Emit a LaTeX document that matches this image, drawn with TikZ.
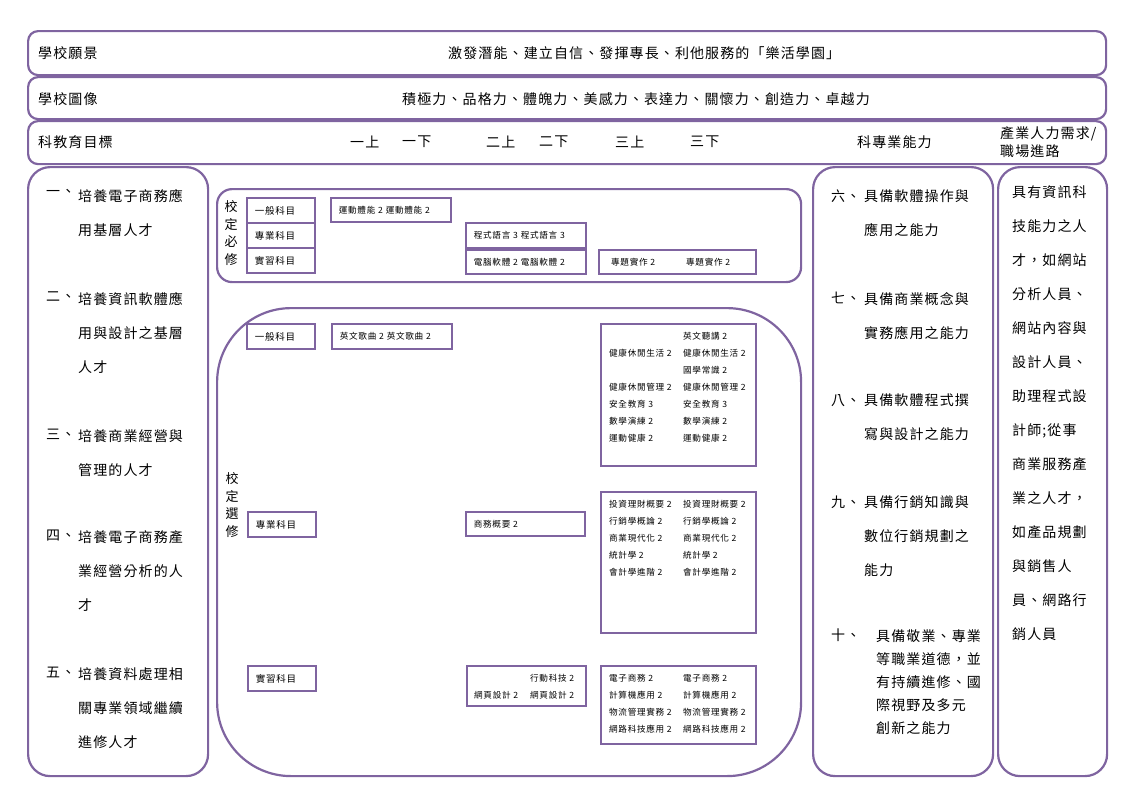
\documentclass[tikz,border=0pt]{standalone}
\usepackage{fontspec}
\setmainfont{Noto Sans CJK TC}[LetterSpace=8]
\usetikzlibrary{positioning}
\definecolor{frameviolet}{RGB}{127,100,160}

\begin{document}
\begin{tikzpicture}[
		x=1pt, y=-1pt,
		panel/.style={draw=frameviolet, line width=2.2pt, rounded corners=#1, inner sep=0pt, anchor=north west},
		panel/.default=10pt,
		hdr/.style={inner sep=0pt, anchor=west, font=\fontsize{14}{18}\selectfont},
		goaltext/.style={inner sep=0pt, anchor=north west, align=left, font=\fontsize{14}{34}\selectfont},
		subj/.style={draw=frameviolet, line width=1.8pt, anchor=north west, text width=52pt, inner xsep=8pt, inner ysep=0pt, minimum height=25pt, align=left, font=\fontsize{9.5}{11}\selectfont},
		course/.style={draw=frameviolet, line width=1.8pt, anchor=north west, inner xsep=8pt, inner ysep=0pt, minimum height=24pt, align=left, font=\fontsize{8.6}{10}\selectfont},
		listbox/.style={draw=frameviolet, line width=1.8pt, anchor=north west, inner sep=0pt},
		courselist/.style={inner sep=0pt, anchor=north west, font=\fontsize{8.6}{17}\selectfont},
		vlab/.style={inner sep=0pt, align=center, font=\fontsize{13}{17.5}\selectfont}
	]
	\useasboundingbox (0,0) rectangle (1130,798);

	\node[panel, minimum width=1078pt, minimum height=44pt] (visionrow) at (27,30) {};
	\node[panel, minimum width=1078pt, minimum height=42pt] (imagerow) at (27,76) {};
	\node[panel, minimum width=1078pt, minimum height=43pt] (goalrow) at (27,120) {};
	\node[panel=22pt, minimum width=180pt, minimum height=609pt] (goalcol) at (27,166) {};
	\node[panel=22pt, minimum width=180pt, minimum height=609pt] (abilitycol) at (812,166) {};
	\node[panel=22pt, minimum width=109pt, minimum height=609pt] (careercol) at (997,166) {};
	\node[panel=15pt, minimum width=584pt, minimum height=93pt] (required) at (216,188) {};
	\node[panel=74pt, minimum width=584pt, minimum height=468pt] (elective) at (216,307) {};

	\node[hdr] (visionlbl) at (38,53) {學校願景};
	\node[hdr] (vision) at (448,53) {激發潛能、建立自信、發揮專長、利他服務的「樂活學園」};
	\node[hdr] (imagelbl) at (38,99) {學校圖像};
	\node[hdr] (image) at (402,99) {積極力、品格力、體魄力、美感力、表達力、關懷力、創造力、卓越力};
	\node[hdr] (goallbl) at (38,142) {科教育目標};
	\node[hdr] (t1a) at (350,142) {一上};
	\node[hdr] (t1b) at (402,142) {一下};
	\node[hdr] (t2a) at (486,142) {二上};
	\node[hdr] (t2b) at (539,142) {二下};
	\node[hdr] (t3a) at (615,142) {三上};
	\node[hdr] (t3b) at (690,142) {三下};
	\node[hdr] (abilitylbl) at (857,142) {科專業能力};
	\node[hdr, align=left] (careerlbl) at (1000,142) {產業人力需求/\\職場進路};

	\node[goaltext] (g1n) at (46,189) {一、};
	\node[goaltext] (g1) at (78,189) {培養電子商務應\\用基層人才};
	\node[goaltext] (g2n) at (46,292) {二、};
	\node[goaltext] (g2) at (78,292) {培養資訊軟體應\\用與設計之基層\\人才};
	\node[goaltext] (g3n) at (46,429) {三、};
	\node[goaltext] (g3) at (78,429) {培養商業經營與\\管理的人才};
	\node[goaltext] (g4n) at (46,530) {四、};
	\node[goaltext] (g4) at (78,530) {培養電子商務產\\業經營分析的人\\才};
	\node[goaltext] (g5n) at (46,667) {五、};
	\node[goaltext] (g5) at (78,667) {培養資料處理相\\關專業領域繼續\\進修人才};

	\node[goaltext] (a6n) at (831,190) {六、};
	\node[goaltext] (a6) at (864,190) {具備軟體操作與\\應用之能力};
	\node[goaltext] (a7n) at (831,292) {七、};
	\node[goaltext] (a7) at (864,292) {具備商業概念與\\實務應用之能力};
	\node[goaltext] (a8n) at (831,394) {八、};
	\node[goaltext] (a8) at (864,394) {具備軟體程式撰\\寫與設計之能力};
	\node[goaltext] (a9n) at (831,496) {九、};
	\node[goaltext] (a9) at (864,496) {具備行銷知識與\\數位行銷規劃之\\能力};
	\node[goaltext] (a10n) at (831,629) {十、};
	\node[goaltext, font=\fontsize{14}{23}\selectfont] (a10) at (876,629) {具備敬業、專業\\等職業道德，並\\有持續進修、國\\際視野及多元\\創新之能力};

	\node[goaltext] (jobs) at (1012,185) {具有資訊科\\技能力之人\\才，如網站\\分析人員、\\網站內容與\\設計人員、\\助理程式設\\計師;從事\\商業服務產\\業之人才，\\如產品規劃\\與銷售人\\員、網路行\\銷人員};

	\node[vlab] (reqlabel) at (231,233) {校\\定\\必\\修};
	\node[subj] (reqgen) at (246,197) {一般科目};
	\node[subj, below=-1.8pt of reqgen] (reqpro) {專業科目};
	\node[subj, below=-1.8pt of reqpro] (reqprac) {實習科目};
	\node[course, text width=104pt] (sport) at (330,197) {運動體能 2 運動體能 2};
	\node[course, text width=104pt, minimum height=25pt] (coding) at (465,222) {程式語言 3 程式語言 3};
	\node[course, text width=104pt] (software) at (465,249) {電腦軟體 2 電腦軟體 2};
	\node[listbox, minimum width=157pt, minimum height=24pt] (projbox) at (598,249) {};
	\node[courselist, anchor=west] (proj) at ([xshift=13pt]projbox.west) {\begin{tabular}{@{}p{67pt}@{\hspace{8pt}}l@{}}專題實作 2 & 專題實作 2\end{tabular}};

	\node[vlab] (elelabel) at (232,505) {校\\定\\選\\修};
	\node[subj] (elegen) at (246,323) {一般科目};
	\node[subj] (elepro) at (247,511) {專業科目};
	\node[subj] (eleprac) at (247,665) {實習科目};
	\node[course, text width=104pt, minimum height=25pt] (songs) at (331,323) {英文歌曲 2 英文歌曲 2};
	\node[course, text width=103pt] (bizintro) at (465,511) {商務概要 2};

	\node[listbox, minimum width=155pt, minimum height=142pt] (genbox) at (600,323) {};
	\node[courselist] (genlist) at ([xshift=9pt,yshift=-4.3pt]genbox.north west) {\begin{tabular}{@{}p{66pt}@{\hspace{8pt}}l@{}}
			& 英文聽講 2\\
			健康休閒生活 2 & 健康休閒生活 2\\
			& 國學常識 2\\
			健康休閒管理 2 & 健康休閒管理 2\\
			安全教育 3 & 安全教育 3\\
			數學演練 2 & 數學演練 2\\
			運動健康 2 & 運動健康 2
		\end{tabular}};

	\node[listbox, minimum width=155pt, minimum height=141pt] (probox) at (600,491) {};
	\node[courselist] (prolist) at ([xshift=9pt,yshift=-4.3pt]probox.north west) {\begin{tabular}{@{}p{66pt}@{\hspace{8pt}}l@{}}
			投資理財概要 2 & 投資理財概要 2\\
			行銷學概論 2 & 行銷學概論 2\\
			商業現代化 2 & 商業現代化 2\\
			統計學 2 & 統計學 2\\
			會計學進階 2 & 會計學進階 2
		\end{tabular}};

	\node[listbox, minimum width=119pt, minimum height=40pt] (webbox) at (466,665) {};
	\node[courselist] (weblist) at ([xshift=8pt,yshift=-4.3pt]webbox.north west) {\begin{tabular}{@{}p{48pt}@{\hspace{8pt}}l@{}}
			& 行動科技 2\\
			網頁設計 2 & 網頁設計 2
		\end{tabular}};

	\node[listbox, minimum width=155pt, minimum height=78pt] (ecbox) at (600,665) {};
	\node[courselist] (eclist) at ([xshift=9pt,yshift=-4.3pt]ecbox.north west) {\begin{tabular}{@{}p{66pt}@{\hspace{8pt}}l@{}}
			電子商務 2 & 電子商務 2\\
			計算機應用 2 & 計算機應用 2\\
			物流管理實務 2 & 物流管理實務 2\\
			網路科技應用 2 & 網路科技應用 2
		\end{tabular}};
\end{tikzpicture}
\end{document}
